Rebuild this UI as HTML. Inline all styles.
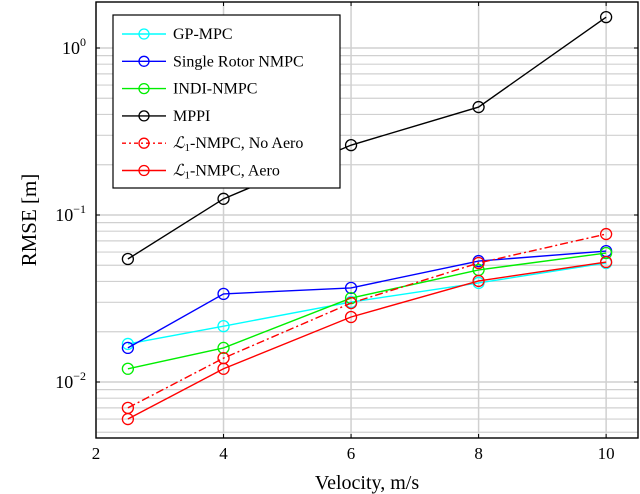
<!DOCTYPE html>
<html><head><meta charset="utf-8">
<style>
body{margin:0;background:#fff;}
svg{display:block;font-family:"Liberation Serif",serif;}
</style></head>
<body>
<svg id="chart" width="640" height="494" xmlns="http://www.w3.org/2000/svg"></svg>
<script>
const xValues = [2.5, 4, 6, 8, 10];
const gpMpc = [0.0169, 0.0216, 0.0301, 0.0392, 0.0516];
const singleRotor = [0.016, 0.0337, 0.0366, 0.053, 0.0608];
const indiNmpc = [0.012, 0.016, 0.0318, 0.0469, 0.0592];
const mppi = [0.0545, 0.125, 0.262, 0.443, 1.53];
const l1NoAero = [0.007, 0.0139, 0.0297, 0.0516, 0.0769];
const l1Aero = [0.006, 0.012, 0.0245, 0.0403, 0.0523];
const xTicks = [2, 4, 6, 8, 10];
const yDecades = [-2, -1, 0];

const L=96,R=638,T=2,B=438;
const X0=2,X1=10.5;
function xs(v){return L+(v-X0)/(X1-X0)*(R-L);}
const ppd=167, y0=48;
function ys(v){return y0-Math.log10(v)*ppd;}
const svg=document.getElementById('chart');
const NS='http://www.w3.org/2000/svg';
function mk(t,a,p){const e=document.createElementNS(NS,t);for(const k in a)e.setAttribute(k,a[k]);(p||svg).appendChild(e);return e;}

const grid=mk('g',{});


for(let d=-3;d<=0;d++){for(let m=1;m<=9;m++){const v=m*Math.pow(10,d);const y=ys(v);if(y<T||y>B)continue;
 mk('line',{x1:L,x2:R,y1:y,y2:y,stroke:'#d0d0d0','stroke-width':m===1?1.5:1.2},grid);}}
xTicks.forEach(t=>{const x=xs(t);mk('line',{x1:x,x2:x,y1:T,y2:B,stroke:'#d0d0d0','stroke-width':1.5},grid);});

xTicks.forEach(t=>{const x=xs(t);
 mk('line',{x1:x,x2:x,y1:B,y2:B-4,stroke:'#000'});mk('line',{x1:x,x2:x,y1:T,y2:T+4,stroke:'#000'});
 const tx=mk('text',{x:x,y:B+21,'text-anchor':'middle','font-size':17});tx.textContent=t;
 
 
});
yDecades.forEach(d=>{const y=ys(Math.pow(10,d));
 mk('line',{x1:L,x2:L+4,y1:y,y2:y,stroke:'#000'});mk('line',{x1:R,x2:R-4,y1:y,y2:y,stroke:'#000'});
 const tx=mk('text',{x:L-10,y:y+6,'text-anchor':'end','font-size':18});
 
 
 const b=mk('tspan',{},tx);b.textContent='10';const s=mk('tspan',{dy:-8,'font-size':12},tx);s.textContent=String(d).replace('-','\u2212');
});

const series=[
 {name:'GP-MPC',data:gpMpc,color:'#00ffff',dash:null,id:'gp-mpc'},
 {name:'Single Rotor NMPC',data:singleRotor,color:'#0000ff',dash:null,id:'single-rotor-nmpc'},
 {name:'INDI-NMPC',data:indiNmpc,color:'#00ee00',dash:null,id:'indi-nmpc'},
 {name:'MPPI',data:mppi,color:'#000',dash:null,id:'mppi'},
 {name:'-NMPC, No Aero',data:l1NoAero,color:'#ff0000',dash:'8,3,2,3',id:'l1-nmpc-no-aero',l1:true},
 {name:'-NMPC, Aero',data:l1Aero,color:'#ff0000',dash:null,id:'l1-nmpc-aero',l1:true},
];
series.forEach(s=>{
 const g=mk('g',{});
 
 
 const pts=s.data.map((v,i)=>xs(xValues[i])+','+ys(v)).join(' ');
 const a={points:pts,fill:'none',stroke:s.color,'stroke-width':1.4};if(s.dash)a['stroke-dasharray']=s.dash;
 mk('polyline',a,g);
 s.data.forEach((v,i)=>{const c=mk('circle',{cx:xs(xValues[i]),cy:ys(v),r:5.5,fill:'none',stroke:s.color,'stroke-width':1.3},g);
  
  });
});

mk('rect',{x:L,y:T,width:R-L,height:B-T,fill:'none',stroke:'#000','stroke-width':1.4});

const lg=mk('g',{});


mk('rect',{x:113,y:15,width:227,height:173,fill:'#fff',stroke:'#000','stroke-width':1.2},lg);
series.forEach((s,i)=>{const y=34+i*27.3;
 const e=mk('g',{},lg);
 
 
 const a={x1:122,x2:166,y1:y,y2:y,stroke:s.color,'stroke-width':1.4};if(s.dash)a['stroke-dasharray']='4,3,2,3';
 mk('line',a,e);mk('circle',{cx:144,cy:y,r:5,fill:'none',stroke:s.color,'stroke-width':1.3},e);
 const t=mk('text',{x:173,y:y+5,'font-size':16},e);
 if(s.l1){const a1=mk('tspan',{'font-style':'italic'},t);a1.textContent='\u2112';const a2=mk('tspan',{'font-size':11,dy:3},t);a2.textContent='1';const a3=mk('tspan',{dy:-3},t);a3.textContent=s.name;}
 else t.textContent=s.name;
});

const xt=mk('text',{x:367,y:489,'text-anchor':'middle','font-size':20});xt.textContent='Velocity, m/s';


const yt=mk('text',{x:0,y:0,'text-anchor':'middle','font-size':21,transform:'translate(36,220) rotate(-90)'});yt.textContent='RMSE [m]';


</script>
</body></html>
